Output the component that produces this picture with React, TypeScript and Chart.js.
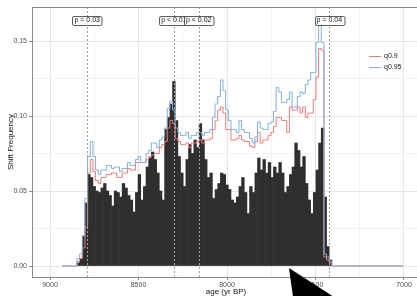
import React, { useEffect, useRef } from 'react';
import { Chart, registerables } from 'chart.js';
Chart.register(...registerables);

// ---- data ----
const binAges = [
  8840, 8825, 8810, 8795, 8780, 8765, 8750, 8735, 8720, 8705, 8690, 8675,
  8660, 8645, 8630, 8615, 8600, 8585, 8570, 8555, 8540, 8525, 8510, 8495,
  8480, 8465, 8450, 8435, 8420, 8405, 8390, 8375, 8360, 8345, 8330, 8315,
  8300, 8285, 8270, 8255, 8240, 8225, 8210, 8195, 8180, 8165, 8150, 8135,
  8120, 8105, 8090, 8075, 8060, 8045, 8030, 8015, 8000, 7985, 7970, 7955,
  7940, 7925, 7910, 7895, 7880, 7865, 7850, 7835, 7820, 7805, 7790, 7775,
  7760, 7745, 7730, 7715, 7700, 7685, 7670, 7655, 7640, 7625, 7610, 7595,
  7580, 7565, 7550, 7535, 7520, 7505, 7490, 7475, 7460, 7445, 7430, 7415,
];

const shiftFreq = [
  0.002, 0.005, 0.020, 0.042, 0.061, 0.059, 0.053, 0.050, 0.049, 0.052, 0.055, 0.050,
  0.047, 0.040, 0.050, 0.049, 0.046, 0.055, 0.052, 0.047, 0.044, 0.036, 0.049, 0.061,
  0.044, 0.053, 0.066, 0.072, 0.076, 0.071, 0.062, 0.050, 0.044, 0.091, 0.099, 0.108,
  0.123, 0.097, 0.073, 0.062, 0.053, 0.071, 0.081, 0.075, 0.084, 0.079, 0.095, 0.084,
  0.071, 0.059, 0.062, 0.045, 0.051, 0.055, 0.062, 0.061, 0.054, 0.051, 0.044, 0.042,
  0.046, 0.053, 0.059, 0.049, 0.035, 0.053, 0.049, 0.062, 0.072, 0.064, 0.071, 0.062,
  0.069, 0.059, 0.066, 0.062, 0.069, 0.062, 0.049, 0.053, 0.061, 0.066, 0.082, 0.077,
  0.066, 0.073, 0.055, 0.044, 0.035, 0.049, 0.064, 0.082, 0.092, 0.046, 0.013, 0.004,
];

const leadAges = [8932, 8855];
const trailAges = [7400, 7005];

const q90 = [
  0, 0,
  0.003, 0.005, 0.012, 0.026, 0.062, 0.071, 0.063, 0.057, 0.055, 0.059, 0.059, 0.061,
  0.061, 0.062, 0.062, 0.059, 0.059, 0.062, 0.062, 0.065, 0.064, 0.064, 0.069, 0.069,
  0.069, 0.069, 0.071, 0.073, 0.074, 0.075, 0.075, 0.079, 0.081, 0.083, 0.092, 0.097,
  0.095, 0.085, 0.083, 0.081, 0.081, 0.082, 0.079, 0.082, 0.082, 0.083, 0.084, 0.082,
  0.084, 0.084, 0.085, 0.091, 0.097, 0.104, 0.106, 0.102, 0.091, 0.091, 0.084, 0.084,
  0.085, 0.087, 0.084, 0.083, 0.083, 0.080, 0.079, 0.083, 0.089, 0.082, 0.084, 0.084,
  0.087, 0.089, 0.093, 0.099, 0.099, 0.097, 0.097, 0.089, 0.106, 0.104, 0.104, 0.106,
  0.102, 0.106, 0.099, 0.102, 0.102, 0.111, 0.126, 0.145, 0.144, 0.006, 0.004, 0.002,
  0, 0,
];

const q95 = [
  0, 0,
  0.005, 0.008, 0.020, 0.045, 0.073, 0.083, 0.073, 0.064, 0.061, 0.064, 0.064, 0.067,
  0.067, 0.065, 0.066, 0.066, 0.063, 0.065, 0.065, 0.069, 0.067, 0.067, 0.071, 0.073,
  0.069, 0.069, 0.075, 0.077, 0.082, 0.082, 0.079, 0.084, 0.086, 0.092, 0.105, 0.110,
  0.104, 0.092, 0.089, 0.087, 0.087, 0.089, 0.085, 0.087, 0.087, 0.089, 0.089, 0.087,
  0.089, 0.089, 0.091, 0.099, 0.108, 0.113, 0.124, 0.117, 0.104, 0.097, 0.091, 0.091,
  0.089, 0.097, 0.091, 0.089, 0.089, 0.085, 0.082, 0.086, 0.096, 0.092, 0.091, 0.091,
  0.095, 0.096, 0.103, 0.119, 0.116, 0.109, 0.109, 0.111, 0.116, 0.106, 0.106, 0.113,
  0.116, 0.115, 0.121, 0.124, 0.129, 0.129, 0.149, 0.161, 0.149, 0.008, 0.006, 0.003,
  0, 0,
];

const shiftAges = [8790, 8300, 8160, 7422];
const shiftLabels = ['p = 0.03', 'p < 0.01', 'p < 0.02', 'p = 0.04'];
const shiftLabelY = 0.164;

const xTicks = [9000, 8750, 8500, 8250, 8000, 7750, 7500, 7250, 7000];
const xLabeled = [9000, 8500, 8000, 7500, 7000];
const yTicks = [0, 0.025, 0.05, 0.075, 0.1, 0.125, 0.15];
const yLabeled = [0, 0.05, 0.1, 0.15];

const seriesNames = ['q0.9', 'q0.95'];
const seriesColors = ['#F07A78', '#7EAFDC'];

const FONT = '"Liberation Sans", Arial, Helvetica, sans-serif';
const isMajor = (v: number, list: number[]) => list.some((m) => Math.abs(m - v) < 1e-6);

const overlayPlugin = {
  id: 'overlay',
  afterDatasetsDraw(chart: any) {
    const { ctx, chartArea, scales } = chart;
    const xs = scales.x;
    const ys = scales.y;
    ctx.save();
    // dashed shift markers
    ctx.strokeStyle = '#A0A0A0';
    ctx.lineWidth = 1;
    ctx.setLineDash([2, 2]);
    shiftAges.forEach((a) => {
      const px = Math.round(xs.getPixelForValue(a)) + 0.5;
      ctx.beginPath();
      ctx.moveTo(px, chartArea.top);
      ctx.lineTo(px, chartArea.bottom);
      ctx.stroke();
    });
    ctx.setLineDash([]);
    // panel border
    ctx.strokeStyle = '#8A8A8A';
    ctx.lineWidth = 1;
    ctx.strokeRect(chartArea.left + 0.5, chartArea.top + 0.5, chartArea.right - chartArea.left, chartArea.bottom - chartArea.top);
    // labels
    ctx.font = `7px ${FONT}`;
    ctx.textAlign = 'center';
    ctx.textBaseline = 'middle';
    const ly = ys.getPixelForValue(shiftLabelY);
    shiftAges.forEach((a, i) => {
      const px = xs.getPixelForValue(a);
      const w = ctx.measureText(shiftLabels[i]).width + 4;
      const h = 9;
      const x0 = Math.round(px - w / 2) + 0.5;
      const y0 = Math.round(ly - h / 2) + 0.5;
      ctx.beginPath();
      if (ctx.roundRect) ctx.roundRect(x0, y0, w, h, 1.5);
      else ctx.rect(x0, y0, w, h);
      ctx.fillStyle = '#FFFFFF';
      ctx.fill();
      ctx.strokeStyle = '#333333';
      ctx.lineWidth = 0.8;
      ctx.stroke();
      ctx.fillStyle = '#111111';
      ctx.fillText(shiftLabels[i], px, ly + 0.5);
    });
    // legend
    ctx.textAlign = 'left';
    seriesNames.forEach((n, i) => {
      const yy = 56.5 + i * 11;
      ctx.strokeStyle = seriesColors[i];
      ctx.lineWidth = 1;
      ctx.beginPath();
      ctx.moveTo(369, yy);
      ctx.lineTo(381, yy);
      ctx.stroke();
      ctx.fillStyle = '#1A1A1A';
      ctx.fillText(n, 384, yy);
    });
    ctx.restore();
  },
  afterDraw(chart: any) {
    const { ctx } = chart;
    ctx.save();
    ctx.fillStyle = '#000000';
    ctx.beginPath();
    ctx.moveTo(289, 268);
    ctx.lineTo(334, 297);
    ctx.lineTo(293, 297);
    ctx.closePath();
    ctx.fill();
    ctx.restore();
  },
};

export default function App() {
  const ref = useRef<HTMLCanvasElement | null>(null);
  useEffect(() => {
    if (!ref.current) return;
    const lineAges = [...leadAges, ...binAges, ...trailAges];
    const chart = new Chart(ref.current, {
      type: 'bar',
      data: {
        datasets: [
          {
            type: 'line',
            label: seriesNames[1],
            data: lineAges.map((a, i) => ({ x: a, y: q95[i] })),
            borderColor: seriesColors[1],
            borderWidth: 1,
            pointRadius: 0,
            stepped: 'middle',
            fill: false,
            order: 1,
          } as any,
          {
            type: 'line',
            label: seriesNames[0],
            data: lineAges.map((a, i) => ({ x: a, y: q90[i] })),
            borderColor: seriesColors[0],
            borderWidth: 1,
            pointRadius: 0,
            stepped: 'middle',
            fill: false,
            order: 2,
          } as any,
          {
            type: 'bar',
            label: 'shift',
            data: binAges.map((a, i) => ({ x: a, y: shiftFreq[i] })),
            backgroundColor: '#2F2F2F',
            borderWidth: 0,
            barPercentage: 1,
            categoryPercentage: 1,
            order: 3,
          } as any,
        ],
      },
      options: {
        responsive: false,
        maintainAspectRatio: false,
        animation: false,
        devicePixelRatio: 1,
        layout: { padding: { left: 0, right: 10, top: 7, bottom: 0 } },
        plugins: { legend: { display: false }, tooltip: { enabled: false } },
        scales: {
          x: {
            type: 'linear',
            reverse: true,
            min: 6909.6,
            max: 9101.7,
            offset: false,
            afterBuildTicks: (s: any) => {
              s.ticks = xTicks.map((v) => ({ value: v }));
            },
            afterFit: (s: any) => {
              s.height = 19;
            },
            ticks: {
              autoSkip: false,
              maxRotation: 0,
              padding: 1,
              color: '#4D4D4D',
              font: { size: 7, family: FONT },
              callback: (v: any) => (isMajor(Number(v), xLabeled) ? String(v) : ''),
            },
            grid: {
              offset: false,
              color: (c: any) => (c.tick && isMajor(c.tick.value, xLabeled) ? '#E6E6E6' : '#F2F2F2'),
              tickColor: (c: any) => (c.tick && isMajor(c.tick.value, xLabeled) ? '#8A8A8A' : 'rgba(0,0,0,0)'),
              tickLength: 3,
              lineWidth: 1,
            },
            border: { display: false },
            title: {
              display: true,
              text: 'age (yr BP)',
              color: '#111111',
              font: { size: 8, family: FONT, lineHeight: 1 },
              padding: { top: 0, bottom: 0 },
            },
          },
          y: {
            type: 'linear',
            min: -0.00733,
            max: 0.17267,
            afterBuildTicks: (s: any) => {
              s.ticks = yTicks.map((v) => ({ value: v }));
            },
            afterFit: (s: any) => {
              s.width = 32;
            },
            ticks: {
              autoSkip: false,
              padding: 2,
              color: '#4D4D4D',
              font: { size: 7, family: FONT },
              callback: (v: any) => (isMajor(Number(v), yLabeled) ? Number(v).toFixed(2) : ''),
            },
            grid: {
              color: (c: any) => (c.tick && isMajor(c.tick.value, yLabeled) ? '#E6E6E6' : '#F2F2F2'),
              tickColor: (c: any) => (c.tick && isMajor(c.tick.value, yLabeled) ? '#8A8A8A' : 'rgba(0,0,0,0)'),
              tickLength: 3,
              lineWidth: 1,
            },
            border: { display: false },
            title: {
              display: true,
              text: 'Shift Frequency',
              color: '#111111',
              font: { size: 8, family: FONT, lineHeight: 1 },
              padding: { top: 7, bottom: 0 },
            },
          },
        },
      } as any,
      plugins: [overlayPlugin],
    });
    return () => chart.destroy();
  }, []);

  return (
    <div
      style={{
        position: 'fixed',
        left: 0,
        top: 0,
        width: 417,
        height: 296,
        overflow: 'hidden',
        background: '#FFFFFF',
      }}
    >
      <canvas ref={ref} width={430} height={296} style={{ display: 'block', width: 430, height: 296 }} />
    </div>
  );
}
